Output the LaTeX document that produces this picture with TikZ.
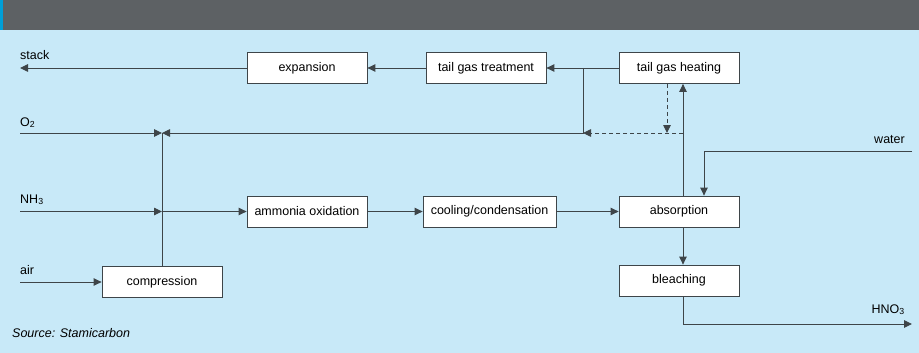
\documentclass[tikz,border=0pt]{standalone}
\usepackage{fontspec}
\setmainfont{Liberation Sans}
\usetikzlibrary{arrows.meta}
\definecolor{bgblue}{HTML}{C8E9F8}
\definecolor{headgrey}{HTML}{5D6164}
\definecolor{stripe}{HTML}{009FD8}
\definecolor{flow}{HTML}{3E4549}

\begin{document}
\begin{tikzpicture}[x=1pt,y=-1pt,
    unit/.style={draw=flow,fill=white,line width=0.8pt,minimum width=120pt,
      minimum height=31pt,inner sep=0pt,font=\fontsize{12.5}{15}\selectfont},
    stream/.style={inner sep=0pt,font=\fontsize{12.5}{15}\selectfont},
    flowline/.style={draw=flow,line width=0.9pt},
    feed/.style={flowline,-{Triangle[length=8pt,width=7.5pt]}}]
    \useasboundingbox (0,0) rectangle (919,353);
    \fill [bgblue] (0,0) rectangle (919,353);
    \fill [headgrey] (0,0) rectangle (919,30);
    \fill [stripe] (0,0) rectangle (3,30);

    \path (307,68) node [unit] (exp) {expansion};
    \path (486,68) node [unit] (tgt) {tail gas treatment};
    \path (679,68) node [unit] (tgh) {tail gas heating};
    \path (307,211.5) node [unit] (amo) {ammonia oxidation};
    \path (489.5,211.5) node [unit,minimum width=133pt] (cool) {cooling/condensation};
    \path (679,211.5) node [unit] (abs) {absorption};
    \path (679,280.5) node [unit] (ble) {bleaching};
    \path (162,282) node [unit] (comp) {compression};

    \coordinate (stack) at (20,68);
    \coordinate (o2in) at (20,133);
    \coordinate (mix) at (162,133);
    \coordinate (nh3in) at (20,211.5);
    \coordinate (nh3mix) at (162,211.5);
    \coordinate (airin) at (20,282);
    \coordinate (waterin) at (912,151);
    \coordinate (waterdrop) at (704,151);
    \coordinate (hno3out) at (912,324);
    \coordinate (split) at (583,68);
    \coordinate (ret) at (583,133);
    \coordinate (byp) at (683,133);
    \coordinate (drop) at (667,133);

    \draw [feed] (tgt) -- (exp);
    \draw [feed] (exp) -- (stack);
    \draw [feed] (tgh) -- (tgt);
    \draw [feed] (split) -- (ret) -- (mix);
    \draw [feed] (o2in) -- (mix);
    \draw [flowline] (comp) -- (mix);
    \draw [feed] (nh3in) -- (nh3mix);
    \draw [feed] (nh3mix) -- (amo);
    \draw [feed] (airin) -- (comp);
    \draw [feed] (amo) -- (cool);
    \draw [feed] (cool) -- (abs);
    \draw [feed] (abs.south -| byp) -- (byp |- ble.north);
    \draw [feed] (ble.south -| byp) |- (hno3out);
    \draw [feed] (waterin) -- (waterdrop) -- (waterdrop |- abs.north);
    \draw [feed] (abs.north -| byp) -- (byp |- tgh.south);
    \draw [feed,dash pattern=on 4pt off 3pt] (byp) -- (ret);
    \draw [feed,dash pattern=on 4pt off 3pt] (drop |- tgh.south) -- (drop);

    \path (20,60) node [stream,anchor=base west] (stacklbl) {stack};
    \path (20,126) node [stream,anchor=base west] (o2lbl) {O\textsubscript{2}};
    \path (20,203) node [stream,anchor=base west] (nh3lbl) {NH\textsubscript{3}};
    \path (20,274) node [stream,anchor=base west] (airlbl) {air};
    \path (905,143) node [stream,anchor=base east] (waterlbl) {water};
    \path (905,313) node [stream,anchor=base east] (hno3lbl) {HNO\textsubscript{3}};
    \path (12,337) node [stream,anchor=base west] (source) {\itshape Source: Stamicarbon};
\end{tikzpicture}
\end{document}
